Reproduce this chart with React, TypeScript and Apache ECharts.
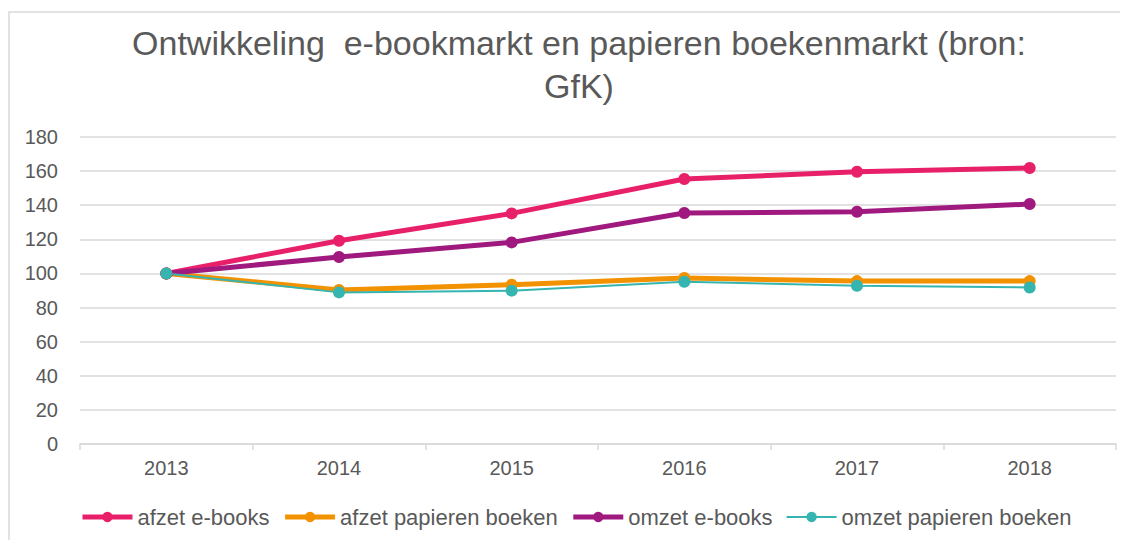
import React, { useEffect, useRef } from "react";
import * as echarts from "echarts";

const years = ["2013", "2014", "2015", "2016", "2017", "2018"];
const afzetEbooks = [100, 119.2, 135.2, 155.4, 159.6, 161.8];
const afzetPapier = [100, 90.3, 93.4, 97.3, 95.5, 95.5];
const omzetEbooks = [100, 109.6, 118.2, 135.4, 136.2, 140.7];
const omzetPapier = [100, 88.9, 89.9, 95.1, 92.8, 91.8];
const seriesNames = ["afzet e-books", "afzet papieren boeken", "omzet e-books", "omzet papieren boeken"];
const seriesColors = ["#E8206A", "#F39200", "#A0197F", "#36B5B0"];
const seriesWidths = [5, 5, 5, 2];
const titleText = "Ontwikkeling  e-bookmarkt en papieren boekenmarkt (bron:\nGfK)";

const FONT = "'Liberation Sans', Arial, sans-serif";
const TEXT = "#595959";

export default function App() {
  const ref = useRef<HTMLDivElement>(null);
  useEffect(() => {
    if (!ref.current) return;
    const chart = echarts.init(ref.current, undefined, { renderer: "svg" });
    const values = [afzetEbooks, afzetPapier, omzetEbooks, omzetPapier];
    chart.setOption({
      animation: false,
      textStyle: { fontFamily: FONT },
      title: {
        text: titleText,
        left: 571,
        textAlign: "center",
        top: 13,
        padding: 0,
        textStyle: { fontFamily: FONT, fontSize: 34, fontWeight: "normal", color: TEXT, lineHeight: 43 },
      },
      graphic: [
        {
          type: "rect",
          shape: { x: 1, y: 4, width: 1300, height: 800 },
          style: { fill: "none", stroke: "#d9d9d9", lineWidth: 1.5 },
          silent: true,
        },
      ],
      grid: { left: 72, top: 129, width: 1036, height: 307, containLabel: false },
      legend: {
        data: seriesNames.map((name, i) => ({
          name,
          lineStyle: { width: seriesWidths[i] },
        })),
        left: 72,
        top: 498,
        padding: 0,
        itemWidth: 50,
        itemHeight: 13,
        itemGap: 13,
        textStyle: { fontFamily: FONT, fontSize: 22, color: TEXT },
      },
      xAxis: {
        type: "category",
        data: years,
        boundaryGap: true,
        axisLine: { lineStyle: { color: "#d9d9d9", width: 1.5 } },
        axisTick: { show: true, alignWithLabel: false, length: 6, lineStyle: { color: "#d9d9d9", width: 1.5 } },
        axisLabel: { fontFamily: FONT, fontSize: 20, color: TEXT, margin: 14 },
      },
      yAxis: {
        type: "value",
        min: 0,
        max: 180,
        interval: 20,
        axisLine: { show: false },
        axisTick: { show: false },
        splitLine: { lineStyle: { color: "#d9d9d9", width: 1.5 } },
        axisLabel: { fontFamily: FONT, fontSize: 20, color: TEXT, margin: 22 },
      },
      series: seriesNames.map((name, i) => ({
        name,
        type: "line",
        data: values[i],
        symbol: "circle",
        symbolSize: 12,
        lineStyle: { color: seriesColors[i], width: seriesWidths[i] },
        itemStyle: { color: seriesColors[i] },
      })),
    });
    return () => chart.dispose();
  }, []);
  return <div ref={ref} style={{ width: 1120, height: 532 }} />;
}
